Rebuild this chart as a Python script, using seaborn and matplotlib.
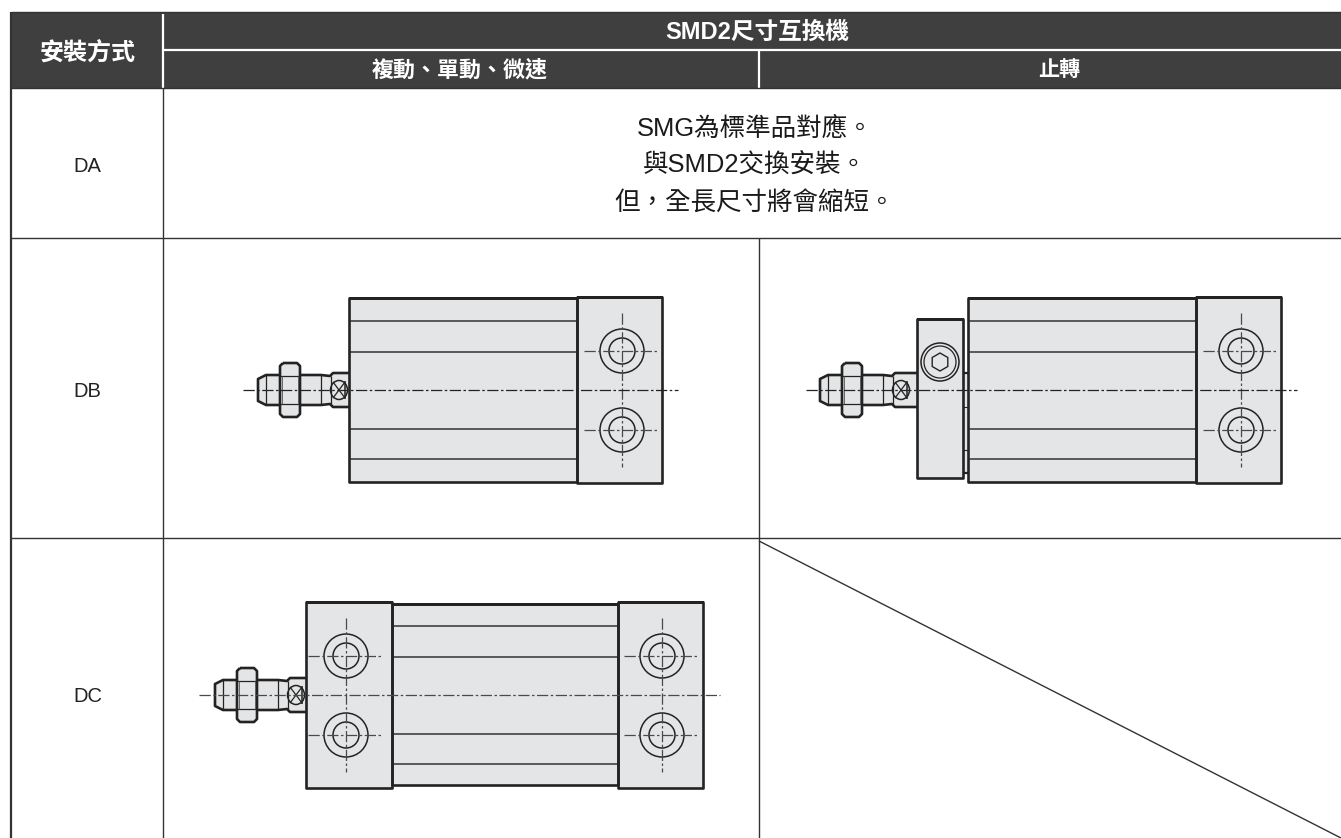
import matplotlib
matplotlib.use("Agg")
import matplotlib.pyplot as plt
from matplotlib.patches import Circle, Ellipse, RegularPolygon
import seaborn as sns

# table text
header_first = "安裝方式"
header_top = "SMD2尺寸互換機"
header_sub = ["複動、單動、微速", "止轉"]
row_labels = ["DA", "DB", "DC"]
da_lines = ["SMG為標準品對應。", "與SMD2交換安裝。", "但，全長尺寸將會縮短。"]

# grid, pixels
col_x = [163, 759]
row_y = [88, 238, 538]
label_y = [166, 391, 696]
da_y = [129, 166, 204]

# rod outline, offsets from where the rod meets the body
rod_x = [0, -16, -19, -28, -83, -91, -91, -83, -28, -19, -16, 0]
rod_y = [-17, -17, -14, -15, -15, -11, 11, 15, 15, 14, 17, 17]
nut_x = [-66, -52, -49, -49, -52, -66, -69, -69, -66]
nut_y = [-27, -27, -24, 24, 27, 27, 24, -24, -27]

# body lines
line_offsets = [-69, -38, 39, 69]

DARK = "#3f3f3f"
INK = "#232323"
FILL = "#e4e5e6"
CENTER = (0, (9, 2, 2, 2))

sns.set_theme(style="white")
plt.rcParams['font.family'] = ['Liberation Sans', 'Noto Sans CJK TC', 'DejaVu Sans']

fig, ax = plt.subplots(figsize=(13.41, 8.38), dpi=100)
fig.subplots_adjust(0, 0, 1, 1)


def seg(xs, ys, lw=1.0, color=INK, ls="-", z=3):
    sns.lineplot(x=xs, y=ys, sort=False, estimator=None, ax=ax, color=color,
                 linewidth=lw, linestyle=ls, zorder=z, solid_capstyle="butt")


def box(x0, x1, y0, y1, lw=1.9):
    ax.fill([x0, x1, x1, x0], [y0, y0, y1, y1], color=FILL, lw=0, zorder=2)
    seg([x0, x1, x1, x0, x0, x1], [y0, y0, y1, y1, y0, y0], lw=lw, z=4)


def rod(x0, y0, neck=0):
    xs = [x0 + v + (neck if v == 0 else 0) for v in rod_x]
    ys = [y0 + v for v in rod_y]
    ax.fill(xs, ys, color=FILL, lw=0, zorder=2)
    seg(xs, ys, lw=1.9)
    for dx in [-83, -28, -18]:
        h = 15 if dx != -18 else 14
        seg([x0 + dx, x0 + dx], [y0 - h, y0 + h], lw=0.9)
    nx = [x0 + v for v in nut_x]
    ny = [y0 + v for v in nut_y]
    ax.fill(nx, ny, color=FILL, lw=0, zorder=4)
    seg(nx, ny, lw=1.9, z=5)
    for dy in [-14, 14]:
        seg([x0 - 69, x0 - 49], [y0 + dy, y0 + dy], lw=0.9, z=5)
    for dx in [-67, -51]:
        seg([x0 + dx, x0 + dx], [y0 - 14, y0 + 14], lw=0.6, color="#555555", z=5)
    # wrench flats
    ax.add_patch(Ellipse((x0 - 10, y0), 17, 19, fc="none", ec=INK, lw=1.1, zorder=5))
    seg([x0 - 16, x0 - 4], [y0 - 8, y0 + 8], lw=0.9, z=5)
    seg([x0 - 16, x0 - 4], [y0 + 8, y0 - 8], lw=0.9, z=5)
    seg([x0 - 4, x0 - 4], [y0 - 9, y0 + 9], lw=1.1, z=5)


def port(cx, cy):
    for r in [22, 13]:
        ax.add_patch(Circle((cx, cy), r, fc="none", ec=INK, lw=1.1, zorder=5))
    seg([cx - 38, cx + 37], [cy, cy], lw=0.9, color="#4a4a4a", ls=CENTER, z=6)


def cap(x0, x1, cx, cy):
    box(x0, x1, cy - 93, cy + 93)
    for dy in [-39, 40]:
        port(cx, cy + dy)
    seg([cx, cx], [cy - 77, cy + 77], lw=0.9, color="#4a4a4a", ls=CENTER, z=6)


def body_lines(x0, x1, cy):
    for dy in line_offsets:
        seg([x0, x1], [cy + dy, cy + dy], lw=1.1, color="#333333", z=3)


# header
ax.fill([11, 1341, 1341, 11], [12, 12, 88, 88], color=DARK, lw=0, zorder=1)
seg([col_x[0], col_x[0]], [14, 88], lw=1.6, color="white")
seg([col_x[0], 1341], [50, 50], lw=1.6, color="white")
seg([col_x[1], col_x[1]], [50, 88], lw=1.6, color="white")

# grid
seg([11, 11], [12, 838], lw=1.6, color="#333333")
seg([11, 1341], [12, 12], lw=1.0, color="#333333")
for y in row_y:
    seg([11, 1341], [y, y], lw=1.0, color="#333333")
seg([col_x[0], col_x[0]], [88, 838], lw=1.0, color="#333333")
seg([col_x[1], col_x[1]], [238, 838], lw=1.0, color="#333333")
seg([col_x[1], 1341], [row_y[2] + 3, 838], lw=1.0, color="#333333")

# DB, left
box(349, 577, 298, 482)
body_lines(349, 577, 390)
cap(577, 662, 622, 390)
rod(349, 390)
seg([243, 678], [390, 390], lw=0.9, ls=CENTER, z=6)

# DB, right
box(968, 1196, 298, 482)
body_lines(968, 1196, 390)
cap(1196, 1281, 1241, 390)
ax.fill([963, 968, 968, 963], [373, 373, 473, 473], color=FILL, lw=0, zorder=2)
seg([963, 968], [373, 373], lw=1.6)
seg([963, 968], [407, 407], lw=0.8)
seg([963, 968], [450, 450], lw=0.8)
seg([963, 968], [473, 473], lw=1.6)
rod(911, 390, neck=6)
box(917, 963, 319, 478)
ax.add_patch(Circle((940, 362), 19, fc="none", ec=INK, lw=1.1, zorder=5))
ax.add_patch(Circle((940, 362), 16, fc="none", ec=INK, lw=0.9, zorder=5))
ax.add_patch(RegularPolygon((940, 362), 6, radius=9, fc="none", ec=INK, lw=1.0, zorder=5))
seg([806, 1297], [390, 390], lw=0.9, ls=CENTER, z=6)

# DC
box(392, 618, 604, 785)
body_lines(392, 618, 695)
cap(306, 392, 346, 695)
cap(618, 703, 662, 695)
rod(306, 695)
seg([199, 720], [695, 695], lw=0.9, color="#4a4a4a", ls=CENTER, z=6)

# text
ax.text(87.5, 53, header_first, color="white", fontsize=17.3, fontweight="bold", ha="center", va="center")
ax.text(757.5, 32, header_top, color="white", fontsize=17, fontweight="bold", ha="center", va="center")
ax.text(460, 71, header_sub[0], color="white", fontsize=15.8, fontweight="bold", ha="center", va="center")
ax.text(1059, 71, header_sub[1], color="white", fontsize=15.2, fontweight="bold", ha="center", va="center")
for txt, y in zip(row_labels, label_y):
    ax.text(87.5, y, txt, color="#222222", fontsize=14.5, ha="center", va="center")
for txt, y in zip(da_lines, da_y):
    ax.text(755, y, txt, color="#1a1a1a", fontsize=18.4, ha="center", va="center")

ax.set_xlim(0, 1341)
ax.set_ylim(838, 0)
ax.axis("off")
fig.savefig("out.png", dpi=100, facecolor="white")
